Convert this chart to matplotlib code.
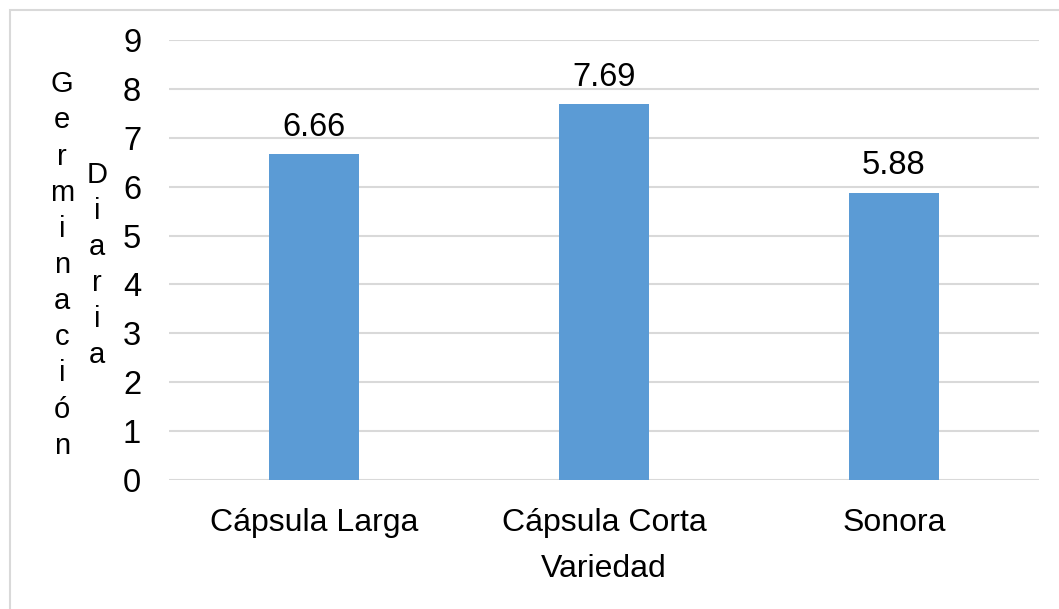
import matplotlib.pyplot as plt
from matplotlib.patches import Rectangle

categories = ["Cápsula Larga", "Cápsula Corta", "Sonora"]
values = [6.66, 7.69, 5.88]
value_labels = ["6.66", "7.69", "5.88"]
yticks = list(range(0, 10))

plt.rcParams['font.family'] = ['Liberation Sans', 'DejaVu Sans']

fig = plt.figure(figsize=(10.59, 6.09), dpi=100)
ax = fig.add_axes([0.1596, 0.2118, 0.8214, 0.7225])

x = range(len(categories))
bars = ax.bar(x, values, width=0.31, color='#5B9BD5', zorder=3)
for b, lab in zip(bars, value_labels):
    ax.annotate(lab, (b.get_x() + b.get_width() / 2, b.get_height()),
                xytext=(0, 8), textcoords='offset points',
                ha='center', va='bottom', fontsize=23.5)

ax.set_xlim(-0.5, 2.5)
ax.set_ylim(0, 9)
ax.set_yticks(yticks)
ax.set_yticklabels([str(t) for t in yticks], fontsize=23.5)
ax.set_xticks(list(x))
ax.set_xticklabels(categories, fontsize=23)
ax.tick_params(length=0)
ax.tick_params(axis='x', pad=20)
ax.tick_params(axis='y', pad=20)
ax.grid(axis='y', color='#d9d9d9', linewidth=1.5, zorder=0)
for s in ax.spines.values():
    s.set_visible(False)

ax.set_xlabel("Variedad", fontsize=23, labelpad=12)

# stacked letters for the y title
fig.text(62 / 1059, 1 - 265 / 609, "\n".join("Germinación"), fontsize=21,
         ha='center', va='center', linespacing=1.37, multialignment='center')
fig.text(97 / 1059, 1 - 265 / 609, "\n".join("Diaria"), fontsize=21,
         ha='center', va='center', linespacing=1.37, multialignment='center')

fig.patches.append(Rectangle((10 / 1059, -0.1), 1.2, 1 - 10 / 609 + 0.1,
                             transform=fig.transFigure, fill=False,
                             edgecolor='#d9d9d9', linewidth=1.5))

fig.savefig("out.png", dpi=100)
plt.close()
